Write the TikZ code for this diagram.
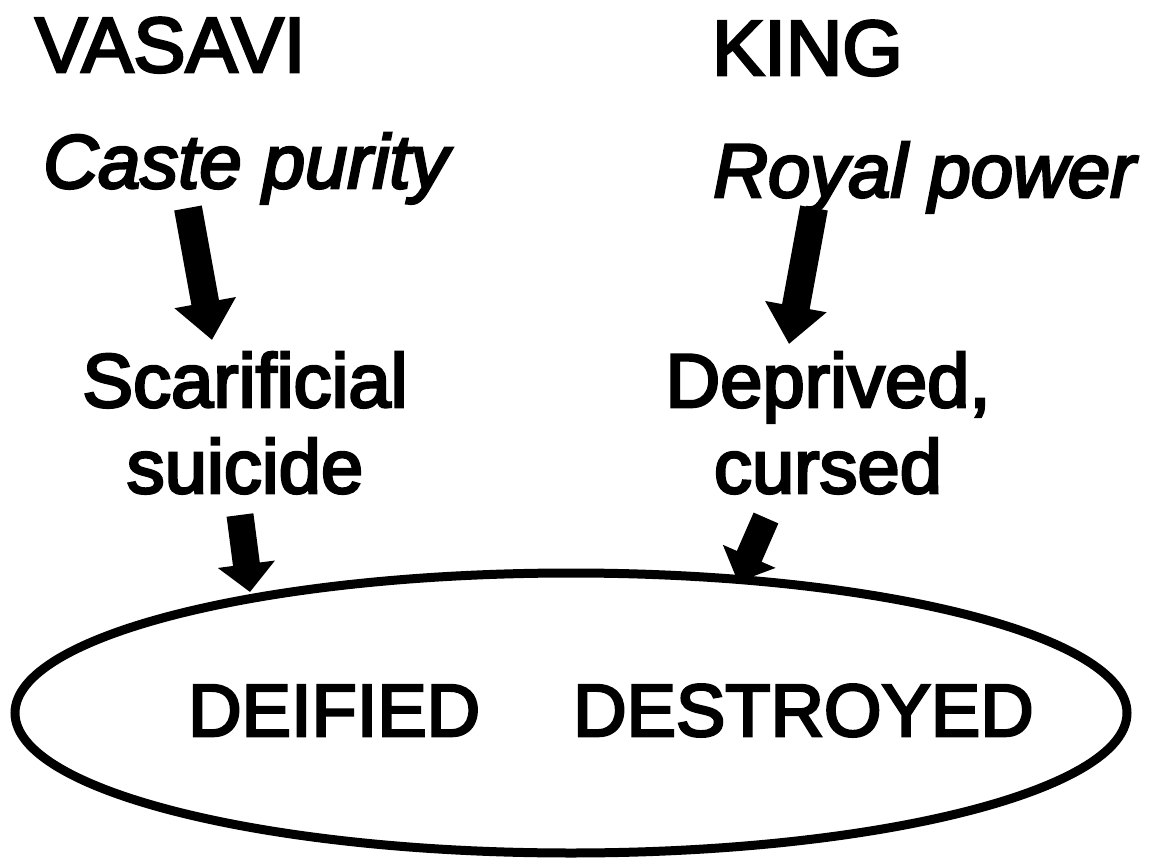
\documentclass[tikz,border=0pt]{standalone}
\usepackage{fontspec}
\newfontfamily\heavy{Liberation Sans}[FakeBold=3.5,
  ItalicFeatures={FakeBold=3.5}]
\usetikzlibrary{arrows.meta,shapes.geometric}
\begin{document}
\begin{tikzpicture}[x=1pt,y=-1pt,
  title/.style={anchor=base west,inner sep=0pt,font=\heavy\fontsize{78}{86}\selectfont},
  value/.style={anchor=base west,inner sep=0pt,font=\heavy\fontsize{76}{84}\selectfont\itshape},
  result/.style={anchor=base,inner sep=0pt,align=center,font=\heavy\fontsize{76}{86}\selectfont},
  fate/.style={anchor=base west,inner sep=0pt,font=\heavy\fontsize{74}{80}\selectfont},
  bigarrow/.style={line width=28pt,-{Triangle[width=60pt,length=38pt]}},
  midarrow/.style={line width=27pt,-{Triangle[width=56pt,length=28pt]}},
  outline/.style={ellipse,draw,line width=9pt,inner sep=0pt}]
\useasboundingbox (0,0) rectangle (1149,864);
\node[title] (vasavi) at (35,72) {VASAVI};
\node[title] (king) at (712,75) {KING};
\node[value] (caste) at (43,188) {Caste purity};
\node[value] (royal) at (713,197) {Royal power};
\node[result] (sacr) at (245,493) {Scarificial\\suicide};
\node[result] (depr) at (828,493) {Deprived,\\cursed};
\node[outline,minimum width=1112pt,minimum height=280pt] (ell) at (571,713) {};
\node[fate] (deified) at (188,736) {DEIFIED};
\node[fate] (destroyed) at (573,736) {DESTROYED};
\coordinate (a1s) at (188,208);
\coordinate (a1e) at (212,340);
\coordinate (a2s) at (814,208);
\coordinate (a2e) at (789,344);
\coordinate (a3s) at (240,515);
\coordinate (a3e) at (250,592);
\coordinate (a4s) at (766,518);
\coordinate (a4e) at (738,582);
\draw[bigarrow] (a1s) -- (a1e);
\draw[bigarrow] (a2s) -- (a2e);
\draw[midarrow] (a3s) -- (a3e);
\draw[midarrow] (a4s) -- (a4e);
\end{tikzpicture}
\end{document}
